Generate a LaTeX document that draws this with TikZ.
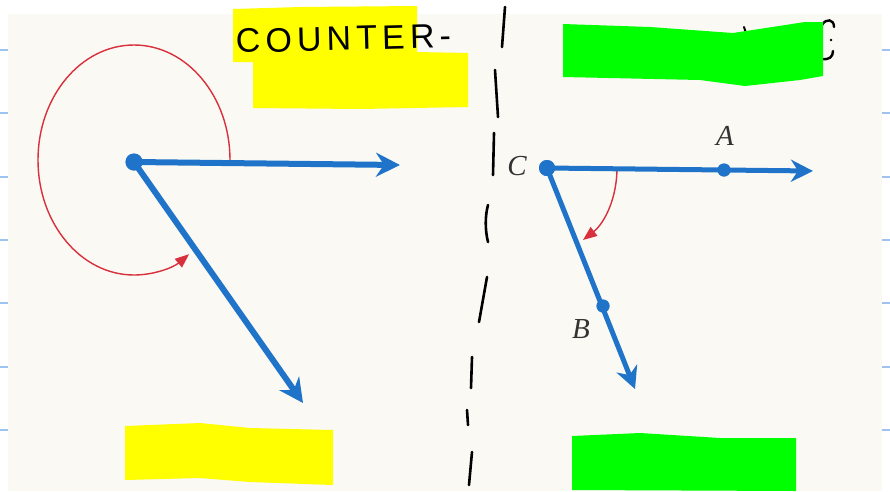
\documentclass[tikz,border=0pt]{standalone}
\usepackage{fontspec}
\setmainfont{Liberation Serif}
\newfontfamily\handfont[LetterSpace=15]{Liberation Sans}
\usetikzlibrary{arrows.meta}
\definecolor{rayblue}{HTML}{1F74C9}
\definecolor{arcred}{HTML}{D8303C}
\definecolor{paper}{HTML}{FAF9F3}
\definecolor{rulecol}{HTML}{9DC3EE}
\definecolor{hiyellow}{HTML}{FFFF00}
\definecolor{higreen}{HTML}{00FF00}
\begin{document}
\begin{tikzpicture}[x=1pt,y=-1pt,
  rayL/.style={draw=rayblue, line width=6pt, -{Stealth[length=24pt,width=24pt,inset=8pt]}},
  rayR/.style={draw=rayblue, line width=5pt, -{Stealth[length=22pt,width=22pt,inset=7pt]}},
  bluedot/.style={circle, fill=rayblue, inner sep=0pt, minimum size=#1},
  turn/.style={draw=arcred, line width=1.4pt, -{Triangle[length=14pt,width=11pt]}},
  dashseg/.style={draw=black, line width=2.6pt, line cap=round},
  lbl/.style={font=\fontsize{29}{31}\selectfont\itshape, text=black!80, inner sep=0pt},
  rulemark/.style={draw=rulecol, line width=2pt}
]
\useasboundingbox (0,0) rectangle (890,491);
\fill[white] (0,0) rectangle (890,491);
\fill[paper] (8,14) rectangle (882,491);
\foreach \yy in {50,113,177,240,303,367,430} {
  \draw[rulemark] (0,\yy) -- (8,\yy);
  \draw[rulemark] (882,\yy) -- (890,\yy);
}

% left figure
\draw[turn] (230,160) arc[start angle=0, end angle=-305, x radius=96, y radius=115];
\node[bluedot=17pt] (O) at (134,162) {};
\coordinate (P) at (400,165);
\coordinate (Q) at (303,403);
\draw[rayL] (O.center) -- (P);
\draw[rayL] (O.center) -- (Q);
\node[bluedot=17pt] at (O) {};

% right figure
\node[bluedot=16pt] (C) at (547,168) {};
\node[bluedot=13pt] (A) at (724,170) {};
\node[bluedot=13pt] (B) at (603,306) {};
\coordinate (R) at (813,171);
\coordinate (S) at (635,389);
\coordinate (t0) at (617,170);
\coordinate (t1) at (583,240);
\draw[turn] (t0) .. controls (616,205) and (601,226) .. (t1);
\draw[rayR] (C.center) -- (R);
\draw[rayR] (C.center) -- (S);
\node[bluedot=16pt] at (C) {};
\node[bluedot=13pt] at (A) {};
\node[bluedot=13pt] at (B) {};
\node[lbl] (Clbl) at (517,166) {C};
\node[lbl] (Albl) at (725,136) {A};
\node[lbl] (Blbl) at (581,329) {B};

% hand-drawn dashed divider
\draw[dashseg] (505,7) -- (502,47);
\draw[dashseg] (495,70) -- (498,117);
\draw[dashseg] (494,133) -- (493,175);
\draw[dashseg] (488,205) .. controls (485,216) and (485,230) .. (488,242);
\draw[dashseg] (487,277) -- (479,322);
\draw[dashseg] (472,357) -- (471,388);
\draw[dashseg] (467,410) -- (468,425);
\draw[dashseg] (472,452) -- (469,485);

% top-left yellow highlight with handwriting
\fill[hiyellow] (233,9) -- (300,7) -- (417,6) -- (417,52) -- (468,53) -- (468,107)
  -- (360,109) -- (253,108) -- (253,62) -- (233,62) -- cycle;
\node[anchor=base west, inner sep=0pt, rotate=1.5, font=\handfont\fontsize{34}{36}\selectfont] (counter) at (236,53) {COUNTER-};

% partial handwriting at top right (behind green)
\draw[black, line width=2.4pt, line cap=round] (822,25) .. controls (826,18) and (834,19) .. (834,27);
\draw[black, line width=2.4pt, line cap=round] (833,51) .. controls (833,57) and (829,60) .. (822,59);
\fill[black] (831,40) circle (1.3pt);
\draw[black, line width=2pt, line cap=round] (744,27) -- (746,33);

% green highlights
\fill[higreen] (563,24) -- (650,27) -- (733,33) -- (805,22) -- (823,22) -- (823,76)
  -- (800,80) -- (745,86) -- (700,80) -- (563,77) -- cycle;
\fill[higreen] (572,436) -- (640,433) -- (720,438) -- (796,438) -- (796,491) -- (572,490) -- cycle;

% bottom-left yellow highlight
\fill[hiyellow] (125,426) -- (200,423) -- (250,428) -- (333,430) -- (333,485) -- (250,482)
  -- (200,478) -- (125,480) -- cycle;
\end{tikzpicture}
\end{document}
